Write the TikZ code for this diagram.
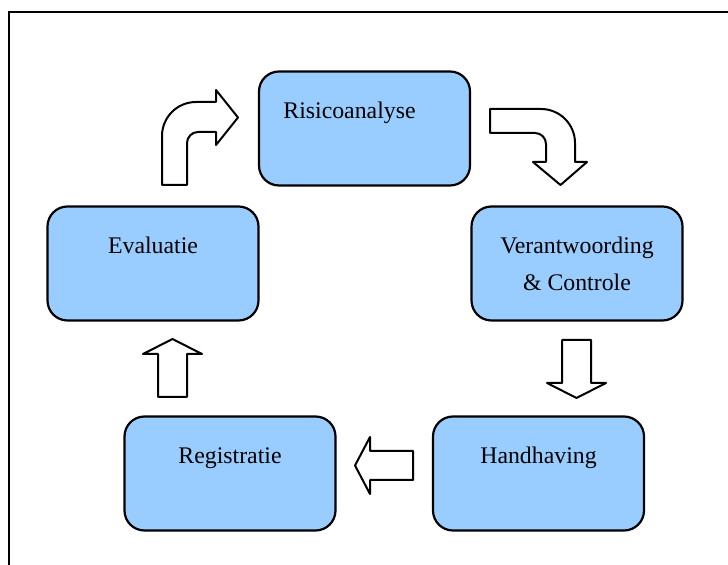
\documentclass[tikz,border=0pt]{standalone}
\usepackage{fontspec}
\setmainfont{Liberation Serif}
\usepackage{tikz}
\definecolor{stagefill}{RGB}{153,204,255}
\tikzset{
  stage/.style={
    draw=black,line width=1.1pt,fill=stagefill,rounded corners=10pt,
    minimum width=105.5pt,minimum height=57pt,
  },
  stagetext/.style={anchor=base,align=center,font=\fontsize{11.9pt}{18.8pt}\selectfont},
  blockarrow/.style={draw=black,line width=1pt,fill=white,line join=round},
}

\begin{document}
\begin{tikzpicture}[x=0.5pt,y=-0.5pt]
      \useasboundingbox (0,0) rectangle (728,565);
      \draw[line width=1pt] (8.5,565) -- (8.5,12.5) -- (728,12.5);

      \node[stage] (risico) at (364.5,128.5) {};
      \node[stage] (verant) at (577,263.5) {};
      \node[stage] (eval) at (153,263.5) {};
      \node[stage] (handh) at (538.5,473.5) {};
      \node[stage] (regis) at (230,473.5) {};

      % labels sit near the top of each box
      \node[stagetext] (risicotxt) at ([xshift=-7.5pt,yshift=-24pt]risico.north) {Risicoanalyse};
      \node[stagetext] (veranttxt) at ([yshift=-42.8pt]verant.north) {Verantwoording\\\& Controle};
      \node[stagetext] (evaltxt) at ([yshift=-24pt]eval.north) {Evaluatie};
      \node[stagetext] (handhtxt) at ([yshift=-24pt]handh.north) {Handhaving};
      \node[stagetext] (registxt) at ([yshift=-24pt]regis.north) {Registratie};

      % bent arrows
      \draw[blockarrow] (162,185) -- (162,136) .. controls (162,117.2) and (177.2,102) .. (196,102)
        -- (216,102) -- (216,90) -- (238,117.5) -- (216,145) -- (216,132) -- (198,132)
        .. controls (191.9,132) and (187,137.1) .. (187,143) -- (187,185) -- cycle;
      \draw[blockarrow] (490,109) -- (541,109) .. controls (559.8,109) and (575,124.2) .. (575,143)
        -- (575,162) -- (587,162) -- (560.5,185) -- (533,162) -- (546,162) -- (546,144)
        .. controls (546,137.9) and (541.1,133) .. (535,133) -- (490,133) -- cycle;

      % straight arrows
      \draw[blockarrow] (562,340) -- (591,340) -- (591,383) -- (606,383) -- (576.5,398) -- (547,383) -- (562,383) -- cycle;
      \draw[blockarrow] (413,451) -- (413,480) -- (370,480) -- (370,494) -- (355,465.5) -- (370,437) -- (370,451) -- cycle;
      \draw[blockarrow] (158,397) -- (187,397) -- (187,354) -- (202,354) -- (172.5,339) -- (143,354) -- (158,354) -- cycle;
\end{tikzpicture}
\end{document}
